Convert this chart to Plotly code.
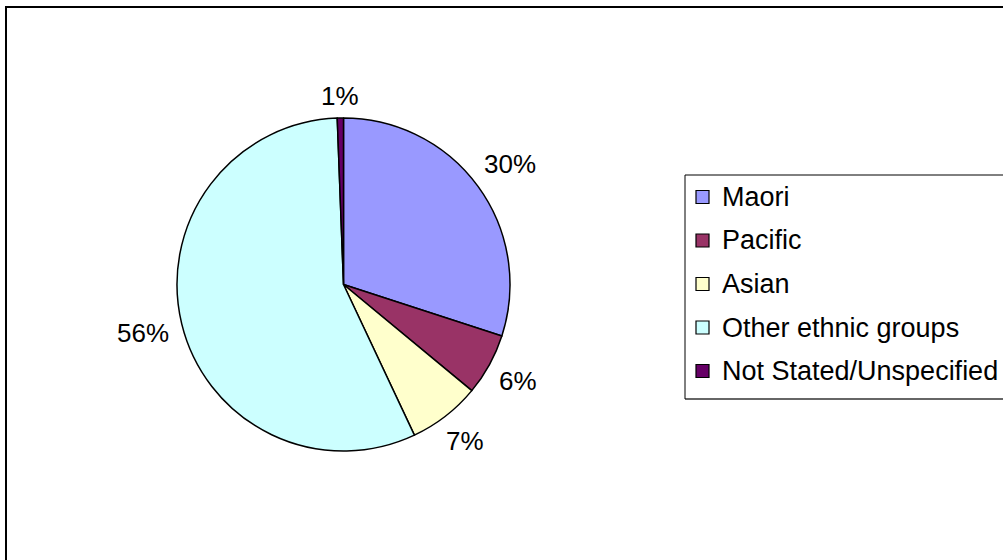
import math
import plotly.graph_objects as go

# Ethnic group shares (percent)
groups = ["Maori", "Pacific", "Asian", "Other ethnic groups", "Not Stated/Unspecified"]
shares = [30.0, 6.0, 7.0, 56.4, 0.6]
colors = ["#9999FF", "#993366", "#FFFFCC", "#CCFFFF", "#660066"]

W, H = 1003, 560
FONT = "Liberation Sans, Arial, sans-serif"
LABEL_FS = 26
LEGEND_FS = 27

# pie placement in pixels
cx, cy, R = 343.5, 284.5, 166.5

fig = go.Figure(
    go.Pie(
        labels=groups,
        values=shares,
        sort=False,
        direction="clockwise",
        rotation=0,
        textinfo="none",
        hoverinfo="label+percent",
        showlegend=False,
        marker=dict(colors=colors, line=dict(color="black", width=1.5)),
        domain=dict(x=[(cx - R) / W, (cx + R) / W], y=[1 - (cy + R) / H, 1 - (cy - R) / H]),
    )
)


def px_x(x):
    return x / W


def px_y(y):
    return 1 - y / H


# percentage labels placed just outside each slice's mid angle
total = sum(shares)
annotations = []
cum = 0.0
for v in shares:
    mid = (cum + v / 2) / total * 2 * math.pi
    cum += v
    txt = f"{round(v / total * 100)}%"
    w = LABEL_FS * (0.556 * (len(txt) - 1) + 0.889)
    h = LABEL_FS * 0.75
    off = 12 + abs(math.sin(mid)) * w / 2 + abs(math.cos(mid)) * h / 2
    lx = cx + (R + off) * math.sin(mid)
    ly = cy - (R + off) * math.cos(mid)
    annotations.append(
        dict(
            x=px_x(lx), y=px_y(ly), xref="paper", yref="paper",
            text=txt, showarrow=False, xanchor="center", yanchor="middle",
            font=dict(family=FONT, size=LABEL_FS, color="black"),
        )
    )


def hline(x0, x1, y, width, color="black"):
    return dict(type="line", xref="paper", yref="paper",
                x0=px_x(x0), x1=px_x(x1), y0=px_y(y), y1=px_y(y),
                line=dict(color=color, width=width))


def vline(x, y0, y1, width, color="black"):
    return dict(type="line", xref="paper", yref="paper",
                x0=px_x(x), x1=px_x(x), y0=px_y(y0), y1=px_y(y1),
                line=dict(color=color, width=width))


# outer chart frame: its right and bottom edges run past the page
shapes = [
    hline(5, W + 20, 7, 2),
    vline(6, 6, H + 20, 2),
]

# legend box (open on the right, where it runs past the page edge)
leg_left, leg_top, leg_bottom = 685, 175, 399
shapes += [
    hline(leg_left, W + 20, leg_top, 1),
    hline(leg_left, W + 20, leg_bottom, 1.3, "#333333"),
    vline(leg_left, leg_top, leg_bottom, 1),
]

# one colour key per group
row0, row_step = 197, 43.5
for i, (g, c) in enumerate(zip(groups, colors)):
    ry = row0 + i * row_step
    shapes.append(
        dict(
            type="rect", xref="paper", yref="paper",
            x0=px_x(696), x1=px_x(709), y0=px_y(ry + 6.5), y1=px_y(ry - 6.5),
            line=dict(color="black", width=1.2), fillcolor=c,
        )
    )
    annotations.append(
        dict(
            x=px_x(720), y=px_y(ry), xref="paper", yref="paper",
            text=g, showarrow=False, xanchor="left", yanchor="middle",
            font=dict(family=FONT, size=LEGEND_FS, color="black"),
        )
    )

fig.update_layout(
    width=W,
    height=H,
    margin=dict(l=0, r=0, t=0, b=0),
    paper_bgcolor="white",
    plot_bgcolor="white",
    showlegend=False,
    annotations=annotations,
    shapes=shapes,
)

fig.write_html("out.html")
